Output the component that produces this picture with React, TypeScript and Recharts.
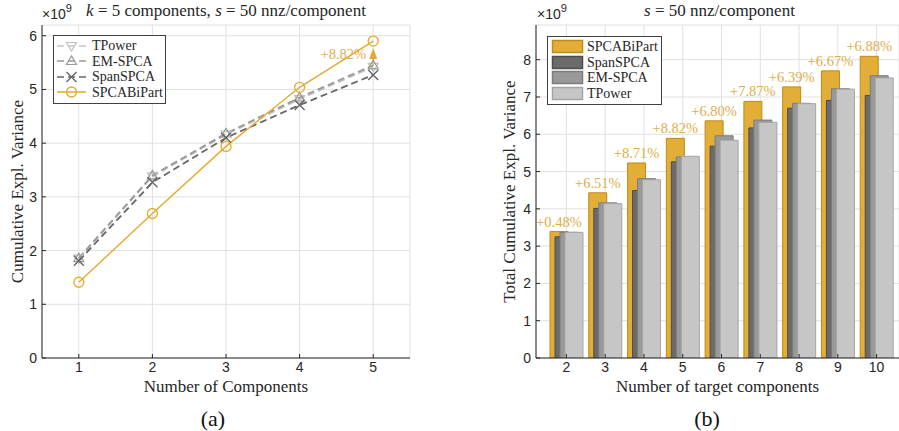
import React from "react";
import {
  LineChart,
  Line,
  BarChart,
  Bar,
  XAxis,
  YAxis,
  CartesianGrid,
  Legend,
  ReferenceLine,
  ReferenceDot,
  LabelList,
} from "recharts";

// (a) cumulative explained variance, k = 5 components (x 1e9)
const components = [1, 2, 3, 4, 5];
const tpowerCum = [1.85, 3.38, 4.16, 4.82, 5.42];
const emspcaCum = [1.86, 3.4, 4.18, 4.85, 5.45];
const spanspcaCum = [1.81, 3.27, 4.1, 4.71, 5.27];
const spcabipartCum = [1.41, 2.69, 3.94, 5.04, 5.9];
const leftGain = 8.82;
const leftYTicks = [0, 1, 2, 3, 4, 5, 6];

// (b) total cumulative explained variance per target components (x 1e9)
const targets = [2, 3, 4, 5, 6, 7, 8, 9, 10];
const spcabipartTotal = [3.39, 4.43, 5.23, 5.89, 6.36, 6.88, 7.27, 7.7, 8.09];
const spanspcaTotal = [3.25, 4.01, 4.49, 5.26, 5.68, 6.17, 6.7, 6.91, 7.04];
const emspcaTotal = [3.37, 4.16, 4.81, 5.39, 5.96, 6.38, 6.83, 7.22, 7.57];
const tpowerTotal = [3.37, 4.14, 4.78, 5.41, 5.84, 6.32, 6.82, 7.21, 7.51];
const gains = [0.48, 6.51, 8.71, 8.82, 6.8, 7.87, 6.39, 6.67, 6.88];
const rightYTicks = [0, 1, 2, 3, 4, 5, 6, 7, 8];

const SERIF = '"Liberation Serif", "Times New Roman", serif';
const SANS = '"Liberation Sans", Arial, sans-serif';
const AXIS = "#262626";
const GRID = "#e0e0e0";
const GOLD = "#E3AA2F";
const GOLD_TEXT = "#DDAE4C";

const lineData = components.map((c, i) => ({
  k: c,
  tpower: tpowerCum[i],
  emspca: emspcaCum[i],
  spanspca: spanspcaCum[i],
  spcabipart: spcabipartCum[i],
}));

const barData = targets.map((t, i) => ({
  n: t,
  spcabipart: spcabipartTotal[i],
  spanspca: spanspcaTotal[i],
  emspca: emspcaTotal[i],
  tpower: tpowerTotal[i],
  gain: gains[i],
}));

const lineSeries = [
  { key: "tpower", name: "TPower", color: "#C2C2C2", dash: "7 4", marker: "down" },
  { key: "emspca", name: "EM-SPCA", color: "#999999", dash: "7 4", marker: "up" },
  { key: "spanspca", name: "SpanSPCA", color: "#666666", dash: "7 4", marker: "x" },
  { key: "spcabipart", name: "SPCABiPart", color: GOLD, dash: undefined, marker: "circle" },
];

const barSeries = [
  { key: "spcabipart", name: "SPCABiPart", fill: "#E3AE38", stroke: "#BF8A17" },
  { key: "spanspca", name: "SpanSPCA", fill: "#6B6B6B", stroke: "#4E4E4E" },
  { key: "emspca", name: "EM-SPCA", fill: "#999999", stroke: "#7C7C7C" },
  { key: "tpower", name: "TPower", fill: "#C6C6C6", stroke: "#A5A5A5" },
];

const noTick = () => <g />;

function Marker({ kind, cx, cy, color }: { kind: string; cx: number; cy: number; color: string }) {
  if (cx == null || cy == null) return <g />;
  if (kind === "down")
    return (
      <polygon
        points={`${cx - 5},${cy - 3.5} ${cx + 5},${cy - 3.5} ${cx},${cy + 5}`}
        fill="none"
        stroke={color}
        strokeWidth={1.2}
      />
    );
  if (kind === "up")
    return (
      <polygon
        points={`${cx - 5},${cy + 3.5} ${cx + 5},${cy + 3.5} ${cx},${cy - 5}`}
        fill="none"
        stroke={color}
        strokeWidth={1.2}
      />
    );
  if (kind === "x")
    return (
      <path
        d={`M${cx - 5},${cy - 5}L${cx + 5},${cy + 5}M${cx - 5},${cy + 5}L${cx + 5},${cy - 5}`}
        stroke={color}
        strokeWidth={1.4}
      />
    );
  return <circle cx={cx} cy={cy} r={5} fill="none" stroke={color} strokeWidth={1.3} />;
}

const dotFor = (kind: string, color: string) => (p: any) =>
  <Marker key={`m-${kind}-${p.index}`} kind={kind} cx={p.cx} cy={p.cy} color={color} />;

const arrowHead = (p: any) => (
  <polygon points={`${p.cx},${p.cy - 6} ${p.cx - 4},${p.cy + 5} ${p.cx + 4},${p.cy + 5}`} fill={GOLD} />
);

const LineLegend = () => (
  <div
    style={{
      width: 113,
      border: "1px solid #404040",
      background: "#fff",
      padding: "2px 0 3px",
      boxSizing: "border-box",
      fontFamily: SERIF,
      fontSize: 14,
      color: AXIS,
    }}
  >
    {lineSeries.map((s) => (
      <div key={s.key} style={{ display: "flex", alignItems: "center", height: 15.5 }}>
        <svg width={38} height={14} style={{ flex: "none" }}>
          <line x1={3} x2={32} y1={7} y2={7} stroke={s.color} strokeWidth={1.5} strokeDasharray={s.dash} />
          <Marker kind={s.marker} cx={17.5} cy={7} color={s.color} />
        </svg>
        <span style={{ lineHeight: "15px" }}>{s.name}</span>
      </div>
    ))}
  </div>
);

const BarLegend = () => (
  <div
    style={{
      width: 115,
      border: "1px solid #404040",
      background: "#fff",
      padding: "2px 0 3px",
      boxSizing: "border-box",
      fontFamily: SERIF,
      fontSize: 14,
      color: AXIS,
    }}
  >
    {barSeries.map((s) => (
      <div key={s.key} style={{ display: "flex", alignItems: "center", height: 15.5 }}>
        <svg width={39} height={15} style={{ flex: "none" }}>
          <rect x={4.5} y={1.5} width={30} height={12} fill={s.fill} stroke={s.stroke} strokeWidth={1.5} />
        </svg>
        <span style={{ lineHeight: "15px" }}>{s.name}</span>
      </div>
    ))}
  </div>
);

const renderGain = (props: any) => {
  const { x, y, width, value, index } = props;
  return (
    <text
      key={`g-${index}`}
      x={Number(x) + Number(width) / 2}
      y={Number(y) - 5}
      textAnchor="middle"
      fill={GOLD_TEXT}
      fontSize={14.5}
      fontFamily={SERIF}
    >
      {`+${Number(value).toFixed(2)}%`}
    </text>
  );
};

const tickStyle = { fill: AXIS, fontSize: 14, fontFamily: SANS };

function Exponent({ left }: { left: number }) {
  return (
    <div style={{ position: "absolute", left, top: 5, fontFamily: SANS, color: AXIS, whiteSpace: "nowrap" }}>
      <span style={{ fontSize: 14 }}>×10</span>
      <span style={{ fontSize: 11, position: "relative", top: -7 }}>9</span>
    </div>
  );
}

export default function App() {
  return (
    <div
      style={{
        position: "absolute",
        left: 0,
        top: 0,
        width: 899,
        height: 431,
        background: "#fff",
        overflow: "hidden",
      }}
    >
      <div style={{ position: "absolute", left: 0, top: 0 }}>
        <LineChart width={420} height={400} data={lineData} margin={{ top: 25, right: 10, bottom: 0, left: 12 }}>
          <CartesianGrid stroke={GRID} />
          <XAxis
            dataKey="k"
            type="number"
            domain={[0.5, 5.5]}
            ticks={components}
            allowDataOverflow
            height={42}
            stroke={AXIS}
            tickSize={-4}
            tickMargin={8}
            tick={tickStyle}
            label={{ value: "Number of Components", position: "insideBottom", offset: 8, fill: AXIS, fontSize: 17, fontFamily: SERIF }}
          />
          <XAxis
            xAxisId="top"
            orientation="top"
            dataKey="k"
            type="number"
            domain={[0.5, 5.5]}
            ticks={components}
            allowDataOverflow
            height={0}
            stroke={AXIS}
            tickSize={-4}
            tick={noTick}
          />
          <YAxis
            domain={[0, 6.2]}
            ticks={leftYTicks}
            allowDataOverflow
            width={30}
            stroke={AXIS}
            tickSize={-4}
            tickMargin={9}
            tick={tickStyle}
            label={{
              value: "Cumulative Expl. Variance",
              angle: -90,
              position: "insideLeft",
              offset: 5,
              fill: AXIS,
              fontSize: 17,
              fontFamily: SERIF,
              style: { textAnchor: "middle" },
            }}
          />
          <YAxis
            yAxisId="right"
            orientation="right"
            domain={[0, 6.2]}
            ticks={leftYTicks}
            allowDataOverflow
            width={0}
            stroke={AXIS}
            tickSize={-4}
            tick={noTick}
          />
          <Legend
            layout="vertical"
            align="center"
            verticalAlign="middle"
            content={() => <LineLegend />}
            wrapperStyle={{ left: 53, top: 35, width: 113 }}
          />
          {lineSeries.map((s) => (
            <Line
              key={s.key}
              dataKey={s.key}
              name={s.name}
              type="linear"
              stroke={s.color}
              strokeWidth={s.dash ? 1.8 : 1.4}
              strokeDasharray={s.dash}
              dot={dotFor(s.marker, s.color)}
              activeDot={false}
              isAnimationActive={false}
            />
          ))}
          <ReferenceLine segment={[{ x: 5, y: 5.45 }, { x: 5, y: 5.58 }]} stroke={GOLD} strokeWidth={1.5} />
          <ReferenceDot
            x={5}
            y={5.66}
            r={4}
            shape={arrowHead}
            label={{ value: `+${leftGain.toFixed(2)}%`, position: "left", offset: 3, fill: GOLD_TEXT, fontSize: 14.5, fontFamily: SERIF }}
          />
        </LineChart>
      </div>

      <div style={{ position: "absolute", left: 490, top: 0 }}>
        <BarChart
          width={409}
          height={400}
          data={barData}
          margin={{ top: 25, right: 0, bottom: 0, left: 16 }}
          barSize={18}
          barGap={-13}
        >
          <CartesianGrid stroke={GRID} />
          <XAxis
            dataKey="n"
            padding={{ left: 11, right: 3 }}
            height={42}
            stroke={AXIS}
            tickSize={-4}
            tickMargin={8}
            tick={tickStyle}
            label={{ value: "Number of target components", position: "insideBottom", offset: 8, fill: AXIS, fontSize: 17, fontFamily: SERIF }}
          />
          <XAxis
            xAxisId="top"
            orientation="top"
            dataKey="n"
            padding={{ left: 11, right: 3 }}
            height={0}
            stroke={AXIS}
            tickSize={-4}
            tick={noTick}
          />
          <YAxis
            domain={[0, 8.93]}
            ticks={rightYTicks}
            allowDataOverflow
            width={30}
            stroke={AXIS}
            tickSize={-4}
            tickMargin={9}
            tick={tickStyle}
            label={{
              value: "Total Cumulative Expl. Variance",
              angle: -90,
              position: "insideLeft",
              offset: 3,
              fill: AXIS,
              fontSize: 17,
              fontFamily: SERIF,
              style: { textAnchor: "middle" },
            }}
          />
          <YAxis
            yAxisId="right"
            orientation="right"
            domain={[0, 8.93]}
            ticks={rightYTicks}
            allowDataOverflow
            width={0}
            stroke={AXIS}
            tickSize={-4}
            tick={noTick}
          />
          <Legend
            layout="vertical"
            align="center"
            verticalAlign="middle"
            content={() => <BarLegend />}
            wrapperStyle={{ left: 57, top: 36, width: 115 }}
          />
          {barSeries.map((s) => (
            <Bar
              key={s.key}
              dataKey={s.key}
              name={s.name}
              fill={s.fill}
              stroke={s.stroke}
              strokeWidth={1}
              isAnimationActive={false}
            >
              {s.key === "spcabipart" ? <LabelList dataKey="gain" content={renderGain} /> : null}
            </Bar>
          ))}
        </BarChart>
      </div>

      <Exponent left={42} />
      <Exponent left={537} />

      <div
        style={{
          position: "absolute",
          left: 42,
          top: 2,
          width: 368,
          textAlign: "center",
          fontFamily: SERIF,
          fontSize: 17,
          lineHeight: "18px",
          color: AXIS,
          whiteSpace: "nowrap",
        }}
      >
        <i>k</i> = 5 components, <i>s</i> = 50 nnz/component
      </div>
      <div
        style={{
          position: "absolute",
          left: 536,
          top: 2,
          width: 367,
          textAlign: "center",
          fontFamily: SERIF,
          fontSize: 17,
          lineHeight: "18px",
          color: AXIS,
          whiteSpace: "nowrap",
        }}
      >
        <i>s</i> = 50 nnz/component
      </div>

      <div style={{ position: "absolute", left: 173, top: 407, width: 80, textAlign: "center", fontFamily: SERIF, fontSize: 22, lineHeight: "24px", color: "#111" }}>
        (a)
      </div>
      <div style={{ position: "absolute", left: 667, top: 407, width: 80, textAlign: "center", fontFamily: SERIF, fontSize: 22, lineHeight: "24px", color: "#111" }}>
        (b)
      </div>
    </div>
  );
}
